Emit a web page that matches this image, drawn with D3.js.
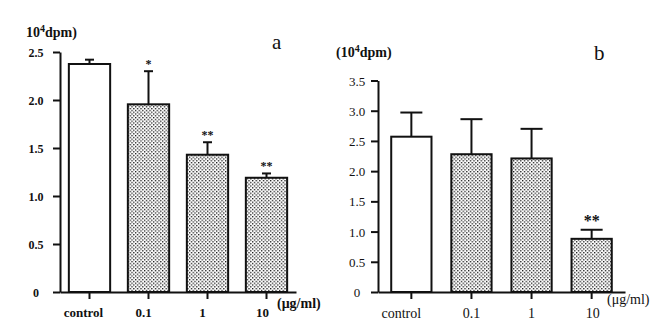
<!DOCTYPE html>
<html><head><meta charset="utf-8">
<script src="https://cdn.jsdelivr.net/npm/d3@7/dist/d3.min.js"></script>
<style>
body{margin:0;background:#fff;}
svg{display:block;}
text{font-family:"Liberation Serif","Times New Roman",serif;fill:#111;}
</style></head>
<body><svg id="c" width="665" height="328"></svg>
<script>
const categories = ["control", "0.1", "1", "10"];
const unitLabel = "(\u03bcg/ml)";
// panel a
const meansA = [2.375, 1.955, 1.43, 1.19];
const errA = [0.045, 0.345, 0.13, 0.045];
const starsA = ["", "*", "**", "**"];
const ticksA = [0, 0.5, 1.0, 1.5, 2.0, 2.5];
const tickLabelsA = ["0", "0.5", "1.0", "1.5", "2.0", "2.5"];
// panel b
const meansB = [2.57, 2.28, 2.21, 0.88];
const errB = [0.40, 0.58, 0.49, 0.15];
const starsB = ["", "", "", "**"];
const ticksB = [0, 0.5, 1.0, 1.5, 2.0, 2.5, 3.0, 3.5];
const tickLabelsB = ["0", "0.5", "1.0", "1.5", "2.0", "2.5", "3.0", "3.5"];

const svg = d3.select("#c");
const defs = svg.append("defs");
const pat = defs.append("pattern").attr("id", "dots").attr("patternUnits", "userSpaceOnUse")
  .attr("width", 3.6).attr("height", 3.6);
pat.append("rect").attr("width", 3.6).attr("height", 3.6).attr("fill", "#fff");
pat.append("rect").attr("x", 0).attr("y", 0).attr("width", 1.3).attr("height", 1.3).attr("fill", "#111");
pat.append("rect").attr("x", 1.8).attr("y", 1.8).attr("width", 1.3).attr("height", 1.3).attr("fill", "#111");

function panel(cfg) {
  const g = svg.append("g");
  const x = d3.scaleBand().domain(categories).range(cfg.xr)
    .paddingInner(cfg.pi).paddingOuter(cfg.po);
  const y = d3.scaleLinear().domain([0, cfg.ymax]).range([cfg.y0, cfg.y1]);
  const data = categories.map((c, i) => ({c, m: cfg.means[i], e: cfg.errs[i], s: cfg.stars[i], i}));

  // bars
  g.selectAll("rect.bar").data(data).join("rect").attr("class", "bar")
    .attr("x", d => x(d.c)).attr("width", x.bandwidth())
    .attr("y", d => y(d.m)).attr("height", d => y(0) - y(d.m))
    .attr("fill", d => d.i === 0 ? "#fff" : "url(#dots)")
    .attr("stroke", "#111").attr("stroke-width", 2);

  // error bars
  g.selectAll("line.ev").data(data).join("line").attr("class", "ev")
    .attr("x1", d => x(d.c) + x.bandwidth() / 2).attr("x2", d => x(d.c) + x.bandwidth() / 2)
    .attr("y1", d => y(d.m)).attr("y2", d => y(d.m + d.e))
    .attr("stroke", "#111").attr("stroke-width", 2);
  g.selectAll("line.ec").data(data).join("line").attr("class", "ec")
    .attr("x1", d => x(d.c) + x.bandwidth() / 2 - cfg.cap / 2)
    .attr("x2", d => x(d.c) + x.bandwidth() / 2 + cfg.cap / 2)
    .attr("y1", d => y(d.m + d.e)).attr("y2", d => y(d.m + d.e))
    .attr("stroke", "#111").attr("stroke-width", 2);

  // stars
  g.selectAll("text.st").data(data.filter(d => d.s)).join("text").attr("class", "st")
    .attr("x", d => x(d.c) + x.bandwidth() / 2)
    .attr("y", d => y(d.m + d.e) - cfg.starGap)
    .attr("text-anchor", "middle")
    .style("font-size", cfg.starSize + "px").style("font-weight", "bold")
    .text(d => d.s);

  // y axis
  const ya = d3.axisLeft(y).tickValues(cfg.ticks).tickFormat((d, i) => cfg.tickLabels[i])
    .tickSize(7).tickSizeOuter(0);
  const yg = g.append("g").attr("transform", `translate(${cfg.xr[0]},0)`).call(ya);
  yg.select(".domain").attr("stroke", "#111").attr("stroke-width", 2);
  yg.selectAll(".tick line").attr("stroke", "#111").attr("stroke-width", 2);
  yg.selectAll(".tick text").attr("x", cfg.tickLabelX - cfg.xr[0]).attr("text-anchor", "middle")
    .attr("dy", "0.35em")
    .style("font-family", '"Liberation Serif",serif')
    .style("font-size", cfg.tickSize + "px").style("font-weight", cfg.bold ? "bold" : "normal")
    .attr("fill", "#111");

  // x axis
  const xa = d3.axisBottom(x).tickSize(7).tickSizeOuter(0).tickFormat(() => "");
  const xg = g.append("g").attr("transform", `translate(0,${cfg.y0})`).call(xa);
  xg.select(".domain").attr("stroke", "#111").attr("stroke-width", 2);
  xg.selectAll(".tick line").attr("stroke", "#111").attr("stroke-width", 2);

  // category labels
  g.selectAll("text.cat").data(data).join("text").attr("class", "cat")
    .attr("x", d => x(d.c) + x.bandwidth() / 2 + cfg.catDx[d.i])
    .attr("y", cfg.catY).attr("text-anchor", "middle")
    .style("font-size", cfg.catSize + "px").style("font-weight", cfg.bold ? "bold" : "normal")
    .text(d => d.c);

  g.append("text").attr("x", cfg.unitX).attr("y", cfg.unitY)
    .style("font-size", "14px").style("font-weight", cfg.bold ? "bold" : "normal")
    .text(unitLabel);

  // y unit label
  const yl = g.append("text").attr("x", cfg.ylX).attr("y", cfg.ylY)
    .style("font-size", "14px").style("font-weight", "bold");
  yl.append("tspan").text(cfg.ylPre + "10");
  yl.append("tspan").attr("dy", -5).style("font-size", "10px").text("4");
  yl.append("tspan").attr("dy", 5).text("dpm)");

  g.append("text").attr("x", cfg.titleX).attr("y", cfg.titleY)
    .style("font-size", "21px").text(cfg.title);
}

panel({
  xr: [60, 296], pi: 0.3, po: 0.15, y0: 292, y1: 52, ymax: 2.5,
  means: meansA, errs: errA, stars: starsA, ticks: ticksA, tickLabels: tickLabelsA,
  cap: 9, starGap: 3, starSize: 12, tickLabelX: 36, tickSize: 12, bold: true,
  catY: 317, catSize: 13, catDx: [-6, -5, -5, -4],
  unitX: 277, unitY: 308, ylX: 26, ylY: 37, ylPre: "", titleX: 272, titleY: 49, title: "a"
});
panel({
  xr: [378, 625], pi: 0.33, po: 0.22, y0: 292, y1: 80.5, ymax: 3.5,
  means: meansB, errs: errB, stars: starsB, ticks: ticksB, tickLabels: tickLabelsB,
  cap: 22, starGap: 4, starSize: 16, tickLabelX: 357, tickSize: 13, bold: false,
  catY: 318, catSize: 14, catDx: [-10, 0, 0, 1],
  unitX: 607, unitY: 304, ylX: 336, ylY: 57, ylPre: "(", titleX: 594, titleY: 60, title: "b"
});
</script></body></html>
